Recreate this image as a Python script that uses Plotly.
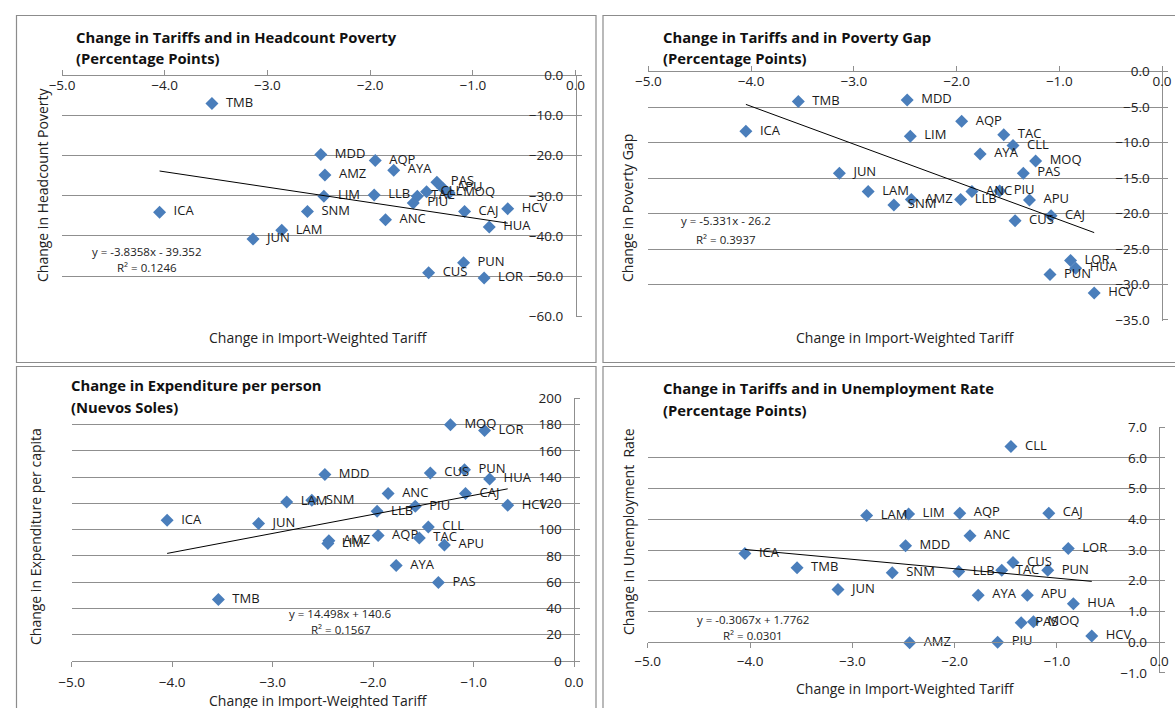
import plotly.graph_objects as go

# ---------------- data ----------------
regions = ["TMB", "ICA", "JUN", "LAM", "SNM", "AMZ", "MDD", "LIM", "AQP", "AYA", "LLB", "ANC",
           "TAC", "CLL", "PIU", "PAS", "MOQ", "APU", "CUS", "CAJ", "PUN", "LOR", "HUA", "HCV"]
tariff_change = [-3.54, -4.05, -3.14, -2.86, -2.61, -2.44, -2.48, -2.45, -1.95, -1.77, -1.96, -1.85,
                 -1.54, -1.45, -1.58, -1.35, -1.23, -1.29, -1.43, -1.08, -1.09, -0.89, -0.84, -0.66]
headcount_change = [-7.0, -34.1, -40.8, -38.6, -33.9, -24.8, -19.7, -30.1, -21.2, -23.6, -29.8, -36.0,
                    -30.1, -29.0, -31.8, -26.6, -29.3, -28.1, -49.2, -33.9, -46.7, -50.5, -37.8, -33.2]
povgap_change = [-4.2, -8.4, -14.3, -16.9, -18.8, -18.0, -4.0, -9.1, -7.0, -11.6, -18.0, -16.9,
                 -8.9, -10.4, -16.8, -14.3, -12.6, -18.1, -21.0, -20.3, -28.6, -26.6, -27.7, -31.2]
expend_change = [46.9, 107.1, 104.6, 121.0, 122.3, 91.5, 142.0, 89.5, 95.5, 72.7, 113.9, 127.4,
                 93.7, 102.0, 117.7, 59.8, 179.8, 88.3, 143.0, 127.4, 145.6, 175.5, 138.5, 118.5]
unemp_change = [2.42, 2.89, 1.71, 4.12, 2.26, -0.02, 3.14, 4.17, 4.20, 1.53, 2.30, 3.46,
                2.34, 6.37, 0.0, 0.63, 0.66, 1.53, 2.59, 4.20, 2.34, 3.05, 1.25, 0.20]

# trendline coefficients (as printed on the chart)
trend_slope = [-3.8358, -5.331, 14.498, -0.3067]
trend_intercept = [-39.352, -26.2, 140.6, 1.7762]
trend_eq = ["y = -3.8358x - 39.352", "y = -5.331x - 26.2", "y = 14.498x + 140.6", "y = -0.3067x + 1.7762"]
trend_r2 = ["R² = 0.1246", "R² = 0.3937", "R² = 0.1567", "R² = 0.0301"]

titles = [("Change in Tariffs and in Headcount Poverty", "(Percentage Points)"),
          ("Change in Tariffs and in Poverty Gap", "(Percentage Points)"),
          ("Change in Expenditure per person", "(Nuevos Soles)"),
          ("Change in Tariffs and in Unemployment Rate", "(Percentage Points)")]
y_titles = ["Change in Headcount Poverty", "Change in Poverty Gap",
            "Change in Expenditure per capita", "Change in Unemployment  Rate"]
x_title = "Change in Import-Weighted Tariff"

series = [headcount_change, povgap_change, expend_change, unemp_change]

# ---------------- layout helpers ----------------
W, H = 1175, 708
FONT = "'Open Sans', Lato, Arial, sans-serif"
BLUE = "#4a7ebb"
GRID = "#8f8f8f"


def px(x):
    return x / W


def py(y):
    return 1 - y / H


# plot-area pixel boxes (left, right, top, bottom)
boxes = [(62, 575.5, 75.5, 316.7),
         (648.3, 1162, 71.7, 320.7),
         (71.7, 574, 397.7, 661),
         (647.7, 1159.3, 426.7, 673.3)]
y_ranges = [[-60.15, 0], [-35.1, 0], [0, 200.4], [-1.015, 7.015]]
y_dticks = [10, 5, 20, 1]
y_formats = [".1f", ".1f", "d", ".1f"]

fig = go.Figure()

for i in range(4):
    xa = "x" if i == 0 else f"x{i+1}"
    ya = "y" if i == 0 else f"y{i+1}"
    ys = series[i]
    fig.add_trace(go.Scatter(
        x=tariff_change, y=ys, mode="markers+text",
        text=["  " + r for r in regions], textposition="middle right",
        textfont=dict(family=FONT, size=13, color="#1a1a1a"),
        marker=dict(symbol="diamond", size=10, color=BLUE),
        xaxis=xa, yaxis=ya, showlegend=False, cliponaxis=False))
    xmin, xmax = min(tariff_change), max(tariff_change)
    fig.add_trace(go.Scatter(
        x=[xmin, xmax],
        y=[trend_slope[i] * xmin + trend_intercept[i], trend_slope[i] * xmax + trend_intercept[i]],
        mode="lines", line=dict(color="black", width=1),
        xaxis=xa, yaxis=ya, showlegend=False, hoverinfo="skip"))

layout = dict(
    width=W, height=H, margin=dict(l=0, r=0, t=0, b=0, autoexpand=False),
    paper_bgcolor="white", plot_bgcolor="white",
    font=dict(family=FONT, size=12, color="#222"),
    showlegend=False,
)

for i in range(4):
    l, r, t, b = boxes[i]
    xkey = "xaxis" if i == 0 else f"xaxis{i+1}"
    ykey = "yaxis" if i == 0 else f"yaxis{i+1}"
    xa = "x" if i == 0 else f"x{i+1}"
    ya = "y" if i == 0 else f"y{i+1}"
    ydom = [py(b), py(t)]
    xaxis = dict(domain=[px(l), px(r)], range=[-5, 0], dtick=1, tick0=-5, tickformat=".1f",
                 showgrid=False, zeroline=False, showline=True, linecolor=GRID, linewidth=1,
                 ticks="outside", ticklen=5, tickcolor=GRID, automargin=False,
                 ticklabeloverflow="allow",
                 tickfont=dict(family=FONT, size=13.5, color="#222"))
    if i in (0, 1):
        xaxis.update(side="top", anchor=ya, ticklabelposition="inside", ticklabelstandoff=5)
    elif i == 2:
        xaxis.update(side="bottom", anchor=ya, ticklabelstandoff=4)
    else:
        frac = (0 - y_ranges[3][0]) / (y_ranges[3][1] - y_ranges[3][0])
        xaxis.update(side="bottom", anchor="free", position=ydom[0] + frac * (ydom[1] - ydom[0]),
                     ticklabelstandoff=2)
    yaxis = dict(domain=ydom, range=y_ranges[i], dtick=y_dticks[i], tickformat=y_formats[i],
                 side="right", anchor=xa, ticklabelposition="inside", ticklabeloverflow="allow",
                 ticklabelstandoff=12,
                 showgrid=True, gridcolor=GRID, gridwidth=1, zeroline=False,
                 showline=True, linecolor=GRID, linewidth=1, automargin=False,
                 ticks="outside", ticklen=5, tickcolor=GRID,
                 tickfont=dict(family=FONT, size=13.5, color="#222"))
    if i == 0:
        yaxis["tick0"] = -60
    elif i == 1:
        yaxis["tick0"] = -35
    elif i == 3:
        yaxis["tick0"] = -1
    layout[xkey] = xaxis
    layout[ykey] = yaxis

fig.update_layout(**layout)

# chart-area borders
shapes = []
for (x0, y0, x1, y1) in [(16.5, 15.5, 596, 362.5), (603, 15.5, 1180, 362.5),
                         (16.5, 366.5, 596, 720), (603, 366.5, 1180, 720)]:
    shapes.append(dict(type="rect", xref="paper", yref="paper",
                       x0=px(x0), x1=px(x1), y0=py(y1), y1=py(y0),
                       line=dict(color="#8c8c8c", width=1.2), fillcolor="rgba(0,0,0,0)"))
fig.update_layout(shapes=shapes)

ann = []
title_pos = [(74, 37, 58), (661, 37, 58), (69, 385, 407), (661, 388, 410)]
for i, (t1, t2) in enumerate(titles):
    x0, y1, y2 = title_pos[i]
    for txt, yy in ((t1, y1), (t2, y2)):
        ann.append(dict(text=f"<b>{txt}</b>", xref="paper", yref="paper", x=px(x0), y=py(yy),
                        xanchor="left", yanchor="middle", showarrow=False,
                        font=dict(family=FONT, size=14.8, color="#111")))

ytitle_pos = [(42, 185), (628, 208), (35, 537), (628, 532)]
for i, t in enumerate(y_titles):
    x0, y0 = ytitle_pos[i]
    ann.append(dict(text=t, xref="paper", yref="paper", x=px(x0), y=py(y0), textangle=-90,
                    xanchor="center", yanchor="middle", showarrow=False,
                    font=dict(family=FONT, size=14, color="#222")))

xtitle_pos = [(318, 337), (905, 337), (318, 700), (905, 688)]
for (x0, y0) in xtitle_pos:
    ann.append(dict(text=x_title, xref="paper", yref="paper", x=px(x0), y=py(y0),
                    xanchor="center", yanchor="middle", showarrow=False,
                    font=dict(family=FONT, size=14, color="#222")))

# trendline equations in data coordinates
eq_pos = [(-4.17, -43.9, -47.9), (-4.24, -21.0, -23.6), (-2.32, 36.5, 24.3), (-3.97, 0.75, 0.23)]
for i in range(4):
    xa = "x" if i == 0 else f"x{i+1}"
    ya = "y" if i == 0 else f"y{i+1}"
    ex, ey1, ey2 = eq_pos[i]
    for txt, yy in ((trend_eq[i], ey1), (trend_r2[i], ey2)):
        ann.append(dict(text=txt, xref=xa, yref=ya, x=ex, y=yy, showarrow=False,
                        xanchor="center", yanchor="middle",
                        font=dict(family=FONT, size=11.5, color="#222")))

fig.update_layout(annotations=ann)

fig.write_html("out.html", config={"displayModeBar": False},
               post_script="document.body.style.margin='0';document.body.style.overflow='hidden';")
